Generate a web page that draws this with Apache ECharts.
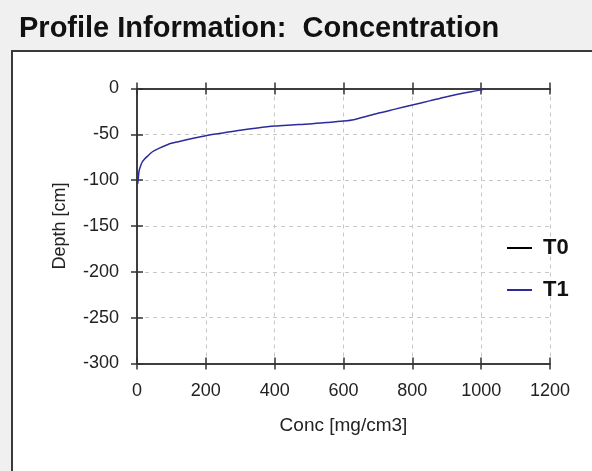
<!DOCTYPE html>
<html>
<head>
<meta charset="utf-8">
<script src="https://cdn.jsdelivr.net/npm/echarts@6/dist/echarts.min.js"></script>
<style>
  html, body { margin: 0; padding: 0; background: #f0f0f0; }
  #wrap { position: relative; width: 592px; height: 471px; overflow: hidden; }
  #panel { position: absolute; left: 11px; top: 50px; width: 600px; height: 440px;
           background: #ffffff; border-left: 2px solid #3a3a3a; border-top: 2px solid #3a3a3a; }
  #chart { position: absolute; left: 0; top: 0; width: 592px; height: 471px; }
</style>
</head>
<body>
<div id="wrap">
  <div id="panel"></div>
  <div id="chart"></div>
</div>
<script>
// ---- data ----
const titleText = 'Profile Information:  Concentration';
const xName = 'Conc [mg/cm3]';
const yName = 'Depth [cm]';
const seriesNames = ['T0', 'T1'];
const xTicks = { min: 0, max: 1200, interval: 200 };
const yTicks = { min: -300, max: 0, interval: 50 };
// T0: initial profile (not visible in the reference)
const t0Data = [];
// T1: [conc, depth]
const t1Conc  = [2, 4, 6, 10, 14, 22, 30, 45, 65, 90, 120, 160, 200, 250, 300, 350, 400, 450, 500, 550, 600, 630, 660, 700, 750, 800, 850, 900, 950, 1000, 1010];
const t1Depth = [-104, -97, -90, -85, -81, -77, -74, -69, -65, -61, -58, -54.5, -51.5, -48.5, -45.5, -43, -41, -39.8, -38.7, -37.2, -35.5, -34, -31, -27, -22.5, -18, -13.5, -9, -5, -1.5, 0];

const t1Data = t1Conc.map((c, i) => [c, t1Depth[i]]);

const font = 'Arial, "Liberation Sans", sans-serif';
const axisColor = '#333333';
const labelColor = '#222222';
const plainNum = v => String(v);

function xAx(opts) {
  return Object.assign({
    type: 'value', min: xTicks.min, max: xTicks.max, interval: xTicks.interval,
    gridIndex: 0,
    axisLine: { show: true, onZero: false, lineStyle: { color: axisColor, width: 1.5 } },
    axisTick: { show: true, length: 6, lineStyle: { color: axisColor, width: 1.5 } },
    axisLabel: { show: false },
    splitLine: { show: false }
  }, opts);
}
function yAx(opts) {
  return Object.assign({
    type: 'value', min: yTicks.min, max: yTicks.max, interval: yTicks.interval,
    gridIndex: 0,
    axisLine: { show: true, onZero: false, lineStyle: { color: axisColor, width: 1.5 } },
    axisTick: { show: true, length: 6, lineStyle: { color: axisColor, width: 1.5 } },
    axisLabel: { show: false },
    splitLine: { show: false }
  }, opts);
}

const chart = echarts.init(document.getElementById('chart'), null, { renderer: 'canvas' });
chart.setOption({
  backgroundColor: 'transparent',
  animation: false,
  title: {
    text: titleText, left: 19, top: 14, padding: 0,
    textStyle: { fontFamily: font, fontSize: 29, fontWeight: 'bold', color: '#111111' }
  },
  grid: { left: 137, top: 88.5, width: 413, height: 275, containLabel: false },
  legend: {
    orient: 'vertical', left: 502, top: 232, itemGap: 20,
    itemWidth: 25, itemHeight: 2, icon: 'rect',
    textStyle: { fontFamily: font, fontSize: 22, fontWeight: 'bold', color: '#111111', padding: [0, 0, 0, 6] },
    data: seriesNames
  },
  xAxis: [
    xAx({
      position: 'bottom',
      axisLabel: { show: true, margin: 19, fontFamily: font, fontSize: 18, color: labelColor, formatter: plainNum },
      splitLine: { show: true, lineStyle: { color: '#c8c8c8', type: [4, 4], width: 1 } },
      name: xName, nameLocation: 'middle', nameGap: 53,
      nameTextStyle: { fontFamily: font, fontSize: 19, color: labelColor }
    }),
    xAx({ position: 'bottom', axisTick: { show: true, inside: true, length: 6, lineStyle: { color: axisColor, width: 1.5 } } }),
    xAx({ position: 'top' }),
    xAx({ position: 'top', axisTick: { show: true, inside: true, length: 6, lineStyle: { color: axisColor, width: 1.5 } } })
  ],
  yAxis: [
    yAx({
      position: 'left',
      axisLabel: { show: true, margin: 18, fontFamily: font, fontSize: 18, color: labelColor, formatter: plainNum },
      splitLine: { show: true, lineStyle: { color: '#c8c8c8', type: [4, 4], width: 1 } },
      name: yName, nameLocation: 'middle', nameGap: 68, nameRotate: 90,
      nameTextStyle: { fontFamily: font, fontSize: 18, color: labelColor }
    }),
    yAx({ position: 'left', axisTick: { show: true, inside: true, length: 6, lineStyle: { color: axisColor, width: 1.5 } } })
  ],
  series: [
    { name: seriesNames[0], type: 'line', xAxisIndex: 0, yAxisIndex: 0, data: t0Data,
      showSymbol: false, symbol: 'none', lineStyle: { color: '#000000', width: 1.5 }, itemStyle: { color: '#000000' } },
    { name: seriesNames[1], type: 'line', xAxisIndex: 0, yAxisIndex: 0, data: t1Data,
      showSymbol: false, symbol: 'none', smooth: 0.3, lineStyle: { color: '#2b2b9c', width: 1.5 }, itemStyle: { color: '#2b2b9c' } }
  ]
});
</script>
</body>
</html>
